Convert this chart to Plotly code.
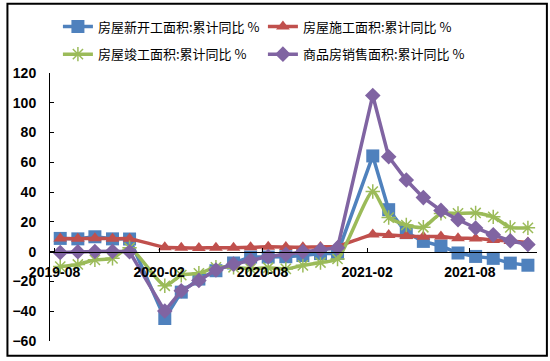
import plotly.graph_objects as go

months = ["2019-08", "2019-09", "2019-10", "2019-11", "2019-12",
          "2020-02", "2020-03", "2020-04", "2020-05", "2020-06", "2020-07",
          "2020-08", "2020-09", "2020-10", "2020-11", "2020-12",
          "2021-02", "2021-03", "2021-04", "2021-05", "2021-06", "2021-07",
          "2021-08", "2021-09", "2021-10", "2021-11"]

new_start = [8.9, 8.6, 10.0, 8.6, 8.5, -44.9, -27.2, -18.4, -12.8, -7.6, -3.6,
             -3.6, -3.4, -2.6, -1.3, -1.2, 64.3, 28.2, 12.8, 6.9, 3.8, -0.9,
             -3.2, -4.5, -7.7, -9.1]
construction = [8.8, 8.7, 9.0, 8.7, 8.7, 2.9, 2.6, 2.5, 2.6, 2.6, 2.9, 3.3,
                3.1, 3.0, 3.2, 3.7, 11.6, 11.2, 10.5, 10.1, 10.2, 9.0, 8.9,
                7.9, 7.1, 6.1]
completion = [-10.0, -8.6, -5.5, -4.5, 2.6, -22.9, -15.8, -14.5, -10.5, -10.5,
              -11.4, -10.8, -11.6, -9.2, -7.3, -4.9, 40.4, 22.9, 17.9, 16.4,
              25.7, 25.7, 26.0, 23.4, 16.3, 16.0]
sales = [-0.6, -0.1, 0.1, 0.2, -0.1, -39.9, -26.3, -19.3, -12.3, -8.4, -5.8,
         -3.3, -1.8, 0.0, 1.3, 2.6, 104.9, 63.8, 48.1, 36.3, 27.7, 21.5, 15.9,
         11.3, 7.3, 4.8]

tick_vals = ["2019-07-22", "2020-01-22", "2020-07-22", "2021-01-22", "2021-07-22"]
tick_text = ["2019-08", "2020-02", "2020-08", "2021-02", "2021-08"]

names = ["房屋新开工面积:累计同比 %", "房屋施工面积:累计同比 %",
         "房屋竣工面积:累计同比 %", "商品房销售面积:累计同比 %"]

x = [m + "-01" for m in months]

fig = go.Figure()
fig.add_trace(go.Scatter(x=x, y=new_start, name=names[0], mode="lines+markers",
                         line=dict(color="#4F81BD", width=3.5),
                         marker=dict(symbol="square", size=13, color="#4F81BD"),
                         legend="legend"))
fig.add_trace(go.Scatter(x=x, y=construction, name=names[1], mode="lines+markers",
                         line=dict(color="#C0504D", width=3.5, shape="spline", smoothing=0.5),
                         marker=dict(symbol="triangle-up", size=12, color="#C0504D"),
                         legend="legend"))
fig.add_trace(go.Scatter(x=x, y=completion, name=names[2], mode="lines+markers",
                         line=dict(color="#9BBB59", width=3.5, shape="spline", smoothing=0.6),
                         marker=dict(symbol="asterisk-open", size=12, color="#9BBB59",
                                     line=dict(color="#9BBB59", width=1.5)),
                         legend="legend2"))
fig.add_trace(go.Scatter(x=x, y=sales, name=names[3], mode="lines+markers",
                         line=dict(color="#8064A2", width=3.5),
                         marker=dict(symbol="diamond", size=12, color="#8064A2"),
                         legend="legend2"))

L, R, T, B = 45, 13, 72, 18
W, H = 550, 361
pw, ph = W - L - R, H - T - B

def px_x(p):
    return (p - L) / pw

def px_y(p):
    return (H - B - p) / ph

legend_common = dict(orientation="h", xanchor="left", yanchor="middle",
                     entrywidth=160, entrywidthmode="pixels",
                     font=dict(family="Noto Sans CJK SC", size=13, color="black"),
                     bgcolor="rgba(0,0,0,0)", itemclick=False)

fig.update_layout(
    width=W, height=H,
    margin=dict(l=L, r=R, t=T, b=B),
    paper_bgcolor="white", plot_bgcolor="white",
    showlegend=True, hovermode=False,
    legend=dict(x=px_x(53), y=px_y(25), **legend_common),
    legend2=dict(x=px_x(53), y=px_y(53), **legend_common),
    xaxis=dict(type="date", range=["2019-07-14", "2021-11-17"],
               tickvals=tick_vals, ticktext=tick_text,
               anchor="free", position=1/3,
               showline=True, linecolor="black", linewidth=1,
               ticks="inside", ticklen=4, tickcolor="black",
               showgrid=False, zeroline=False, ticklabelstandoff=8,
               tickfont=dict(family="Liberation Sans", size=14, color="black", weight="bold")),
    yaxis=dict(range=[-60, 120], dtick=20, tick0=0,
               showline=True, linecolor="black", linewidth=1,
               ticks="inside", ticklen=4, tickcolor="black",
               showgrid=False, zeroline=False, ticklabelstandoff=10,
               tickfont=dict(family="Liberation Sans", size=14, color="black", weight="bold")),
    shapes=[dict(type="rect", xref="paper", yref="paper",
                 x0=px_x(2), x1=px_x(547), y0=px_y(358), y1=px_y(2),
                 line=dict(color="black", width=2), fillcolor="rgba(0,0,0,0)",
                 layer="above")],
)

fig.write_html("out.html", config={"displayModeBar": False},
               post_script="document.body.style.margin='0px';document.body.style.padding='0px';")
